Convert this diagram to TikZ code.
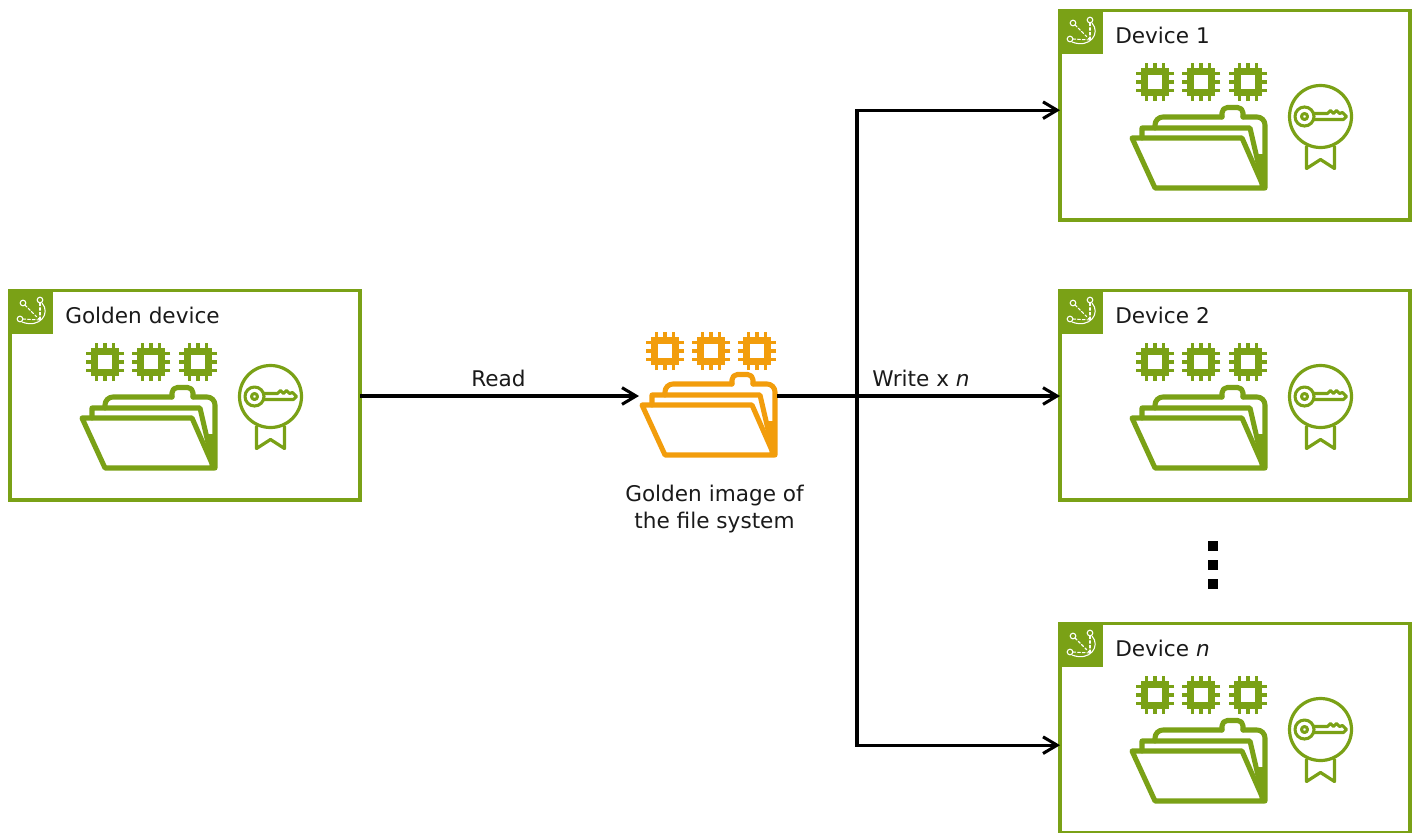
\documentclass[tikz,border=0pt]{standalone}
\usepackage{fontspec}
\setmainfont{DejaVu Sans}
\usetikzlibrary{arrows.meta,calc}
\definecolor{grn}{HTML}{7AA116}
\definecolor{org}{HTML}{F29D0C}
\definecolor{ink}{HTML}{1A1A1A}
\tikzset{
  x=0.75pt,y=-0.75pt,
  devbox/.style={draw=grn,line width=2.5pt,fill=white,minimum width=262.5pt,minimum height=157pt,inner sep=0pt,outer sep=0pt,anchor=north west},
  conn/.style={draw=black,line width=2.3pt,-{Straight Barb[length=10.5pt,width=12.5pt,line width=2.3pt]}},
  lbl/.style={font=\fontsize{16.2pt}{19.6pt}\selectfont,text=ink,inner sep=0pt},
  hook/.style={minimum size=0pt,inner sep=0pt,outer sep=0pt}
}
\newcommand{\chipicon}[3]{% x y colour
  \begin{scope}[shift={(#1,#2)}]
    \draw[#3,line width=4.9pt] (-10.5,-10.5) rectangle (10.5,10.5);
    \foreach \d in {-8.5,0,8.5}{
      \draw[#3,line width=2.5pt] (\d,-19) -- (\d,-12);
      \draw[#3,line width=2.5pt] (\d,19) -- (\d,12);
      \draw[#3,line width=2.5pt] (-19,\d) -- (-12,\d);
      \draw[#3,line width=2.5pt] (19,\d) -- (12,\d);
    }
  \end{scope}}
\newcommand{\foldericon}[3]{% origin of folder frame, colour
  \begin{scope}[shift={(#1,#2)},#3,line width=3.8pt,line join=round,line cap=round]
    % back sheet with tab
    \draw[rounded corners=6pt] (25,24) -- (25,13) -- (92,13);
    \draw[rounded corners=4pt] (92,13) -- (92,3.5) -- (113,3.5) -- (113,13);
    \draw[rounded corners=6pt] (113,13) -- (135,13) -- (135,84);
    % middle sheet
    \draw (12,34) -- (12,24) -- (120,24) -- (133,80);
    % front sheet
    \draw (2,34) -- (112,34) -- (134,84) -- (25,84) -- cycle;
    \fill (126,50) -- (135,50) -- (135,84) -- (130,84) -- cycle;
  \end{scope}}
\newcommand{\badgeicon}[2]{% centre of circle
  \begin{scope}[shift={(#1,#2)},grn,line join=round,line cap=round]
    \draw[line width=2.4pt] (0,0) circle (31);
    \draw[line width=2.4pt] (-14,30) -- (-14,52) -- (0,43) -- (14,52) -- (14,30);
    \draw[line width=2.3pt] (-16,0) circle (9.5);
    \draw[line width=2.3pt] (-16,0) circle (3);
    \draw[line width=2.3pt] (-7,-3) -- (7,-3) -- (10,-6) -- (13,-3) -- (16,-6) -- (19,-3) -- (22,-4) -- (26,0) -- (23,3) -- (-7,3);
  \end{scope}}
\newcommand{\tagicon}[2]{% top-left of the corner tag
  \begin{scope}[shift={(#1,#2)}]
    \fill[grn] (-1.5,-1.5) rectangle (43,43);
    \begin{scope}[white,line width=.8pt,line cap=round]
      \draw (13,12) circle (2.8);
      \draw (30,9) circle (2.8);
      \draw (10,28) circle (2.8);
      \draw[dash pattern=on 2pt off 1.5pt] (15,14) -- (30,29);
      \draw[dash pattern=on 2pt off 1.5pt] (30,12) -- (30,29);
      \draw[dash pattern=on 2pt off 1.5pt] (13,28) -- (30,29);
      \draw (32,12) .. controls (41,22) and (30,38) .. (12,31);
    \end{scope}
  \end{scope}}
\newcommand{\fullset}[2]{% box top-left
  \tagicon{#1}{#2}
  \chipicon{#1+95}{#2+71}{grn}
  \chipicon{#1+141}{#2+71}{grn}
  \chipicon{#1+188}{#2+71}{grn}
  \foldericon{#1+70}{#2+93}{grn}
  \badgeicon{#1+260.5}{#2+105.5}}
\begin{document}
\begin{tikzpicture}
\useasboundingbox (0,0) rectangle (1417,832);
\begin{scope}
\clip (0,0) rectangle (1417,832);
\node[devbox] (golden) at (10,290.5) {};
\node[devbox] (dev1) at (1060,10.5) {};
\node[devbox] (dev2) at (1060,290.5) {};
\node[devbox] (devn) at (1060,623.5) {};
\fullset{10}{291}
\fullset{1060}{11}
\fullset{1060}{291}
\fullset{1060}{624}
\end{scope}
\node[lbl,anchor=west] (tg) at (65,315.5) {Golden device};
\node[lbl,anchor=west] (t1) at (1115,35.5) {Device 1};
\node[lbl,anchor=west] (t2) at (1115,315.5) {Device 2};
\node[lbl,anchor=west] (tn) at (1115,648.5) {Device \textit{n}};
% golden image
\chipicon{665}{351}{org}
\chipicon{711}{351}{org}
\chipicon{757}{351}{org}
\foldericon{640}{371}{org}
\node[lbl,align=center] (cap) at (714.5,509) {Golden image of\\the file system};
\node[lbl] (read) at (498.5,378) {Read};
\node[lbl] (write) at (921,378) {Write x \textit{n}};
\coordinate (img-in) at (639,396);
\coordinate (img-out) at (777,396);
\coordinate (split) at (857,396);
\coordinate (to1) at ($(dev1.west)+(0,-5)$);
\coordinate (ton) at ($(devn.west)+(0,17)$);
\draw[conn] (golden.east |- img-in) -- (img-in);
\draw[conn] (img-out) -- (dev2.west |- img-out);
\draw[conn] (split) |- (to1);
\draw[conn] (split) |- (ton);
\foreach \yy in {545.7,565,584}{
  \fill[black] (1207.5,\yy-5.2) rectangle (1218.3,\yy+5.2);
}
\end{tikzpicture}
\end{document}
